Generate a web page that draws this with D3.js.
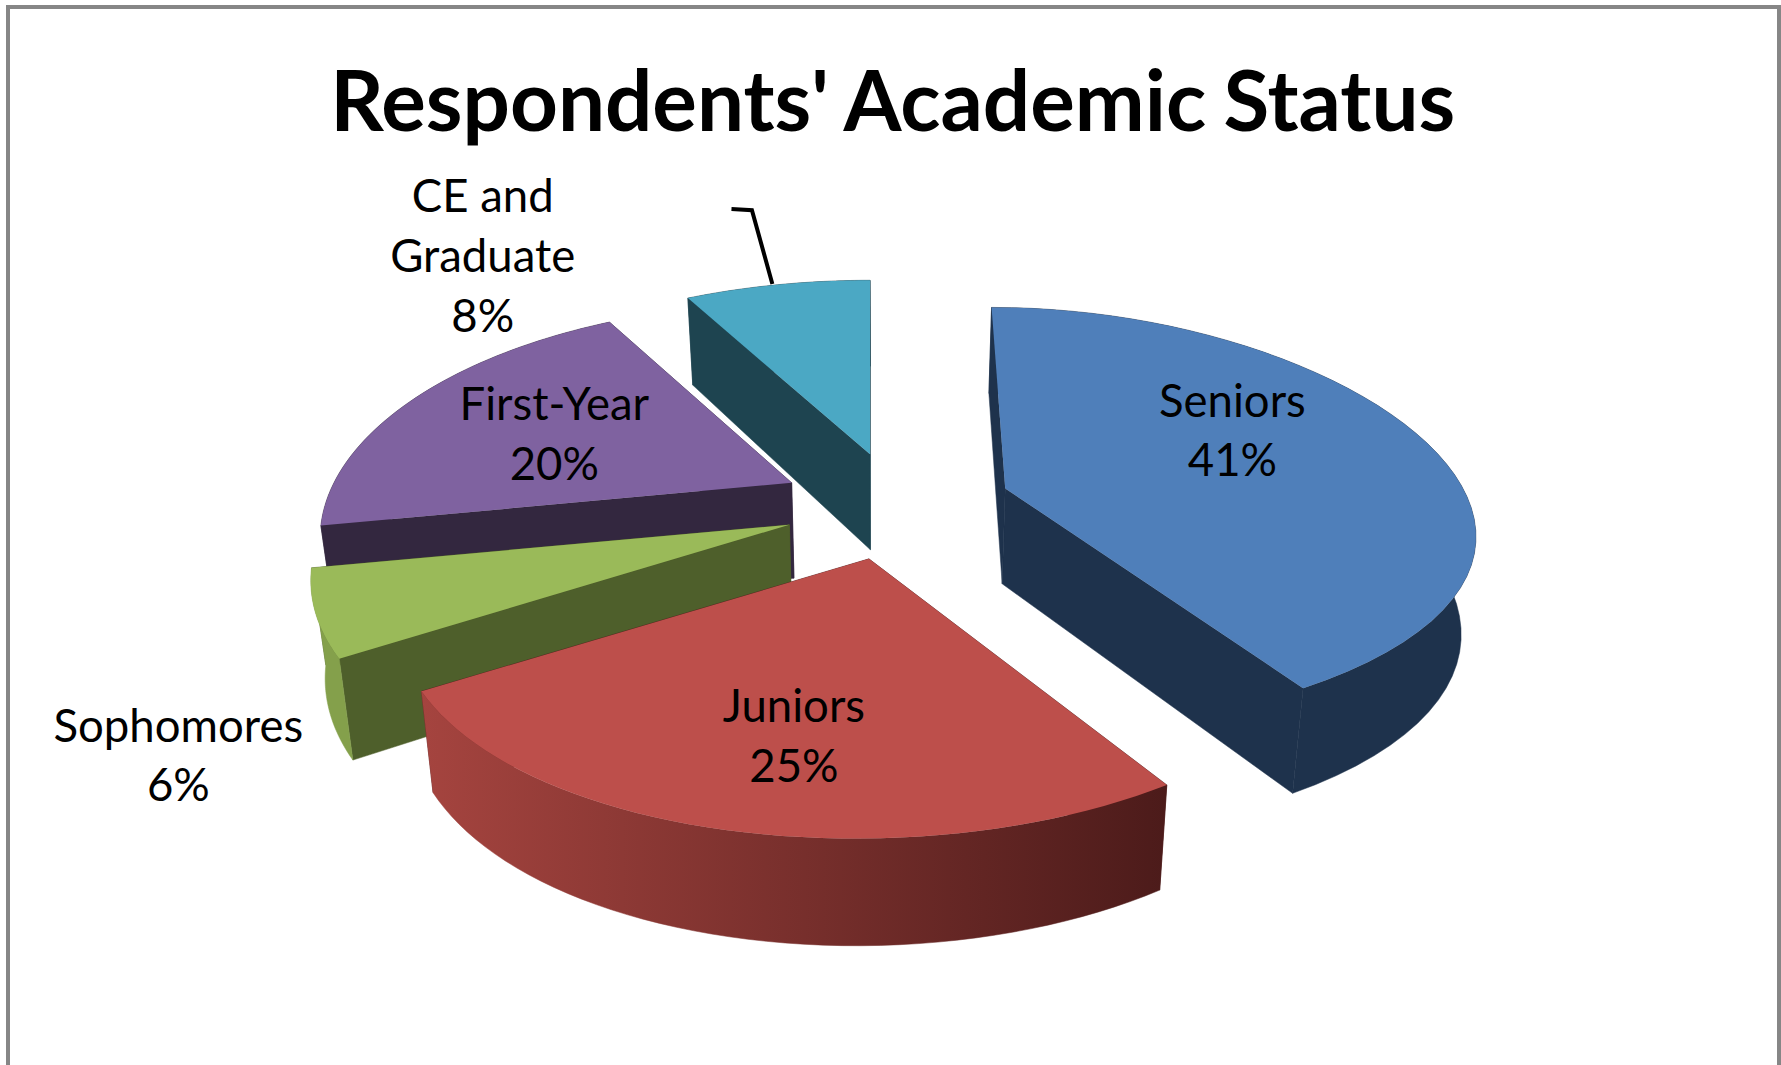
<!DOCTYPE html>
<html><head><meta charset="utf-8">
<script src="https://cdn.jsdelivr.net/npm/d3@7"></script>
<style>html,body{margin:0;padding:0;background:#fff}svg{display:block}text{font-family:Lato,"Open Sans",sans-serif;fill:#000}</style>
</head><body>
<script>
// Data
const categories = ["Seniors","Juniors","Sophomores","First-Year","CE and Graduate"];
const percents = [41,25,6,20,8];
const titleText = "Respondents' Academic Status";
const labelLines = [["Seniors","41%"],["Juniors","25%"],["Sophomores","6%"],["First-Year","20%"],["CE and","Graduate","8%"]];

// Style
const topColors = ["#4F7FBA","#BD4F4B","#9ABA59","#7F62A0","#4BA8C4"];
const cutColors = ["#1E324C","#4C1B1A","#4E5F2B","#33273F","#1E4450"];
const wallFrom  = ["#1E324C","#A5443F","#84A04B","#33273F","#1E4450"];
const wallTo    = ["#1E324C","#4C1B1A","#84A04B","#33273F","#1E4450"];

// Layout (expressed at the 1568-wide design size)
const W=1781,H=1065,S=W/1568;
const cx=778, cy=440, R=403, ry=190, persp=0.24, depth=84, depthPersp=0.11, depthShrink=0.975;
const explodeX=[107,-13,-83,-81,-12];
const explodeY=[-10,52,22,-15,-40];
const tiltFront=[0.86,0.985,1,1,1];
const tiltBack=[1.04,1.04,1.04,1.03,1.0];
const lean=[12,12,0,0,0];
const radiusScale=[1,1,1.015,1,1];
const labelAt=[[1085,367],[699,636],[157,653],[488,370],[425,187]];
const lineGap=52.5;

const px=d3.scaleLinear().domain([0,1568]).range([0,W]);
const py=d3.scaleLinear().domain([0,938]).range([0,938*S]);

const svg=d3.select("body").append("svg").attr("width",W).attr("height",H);
svg.append("rect").attr("width",W).attr("height",H).attr("fill","#fff");
// frame
svg.append("path").attr("d",`M8,${H} V7 H1779 V${H}`).attr("fill","none").attr("stroke","#868686").attr("stroke-width",4);

const pie=d3.pie().value(d=>d).sort(null);
const arcs=pie(percents);
const tiltScales=tiltBack.map((b,i)=>d3.scaleLinear().domain([-1,1]).range([b,tiltFront[i]]));

// a point on slice i at pie angle a and radius fraction r, on the top (z=0) or bottom (z=1) face
function pt(i,a,r,z){
  const u=r*Math.sin(a), v=-r*Math.cos(a);
  const s=1/(1-persp*v);
  let x=cx+explodeX[i]+R*radiusScale[i]*u*s-lean[i]*v*v;
  let y=cy+explodeY[i]+ry*v*s*tiltScales[i](v);
  if(z){
    x=cx+(x-cx)*depthShrink;
    y+=depth/(1-depthPersp*v);
  }
  return [px(x),py(y)];
}
const line=d3.line();
const defs=svg.append("defs");
const steps=48;
function angles(i){return d3.range(steps+1).map(k=>arcs[i].startAngle+(arcs[i].endAngle-arcs[i].startAngle)*k/steps);}
function face(i,a){return line([pt(i,a,0,0),pt(i,a,1,0),pt(i,a,1,1),pt(i,a,0,1)])+"Z";}

const order=[4,3,2,0,1];
order.forEach(i=>{
  const g=svg.append("g").attr("class","slice").attr("data-name",categories[i]);
  const as=angles(i);
  const a0=arcs[i].startAngle,a1=arcs[i].endAngle;
  // radial faces
  g.append("path").attr("fill",cutColors[i]).attr("stroke",cutColors[i]).attr("stroke-width",0.5).attr("d",face(i,a1));
  g.append("path").attr("fill",cutColors[i]).attr("stroke",cutColors[i]).attr("stroke-width",0.5).attr("d",face(i,a0));
  // outer wall
  const tops=as.map(a=>pt(i,a,1,0)), bots=as.map(a=>pt(i,a,1,1)).reverse();
  const ext=d3.extent(tops,d=>d[0]);
  const id="wall"+i;
  const gr=defs.append("linearGradient").attr("id",id).attr("gradientUnits","userSpaceOnUse")
    .attr("x1",ext[1]).attr("x2",ext[0]).attr("y1",0).attr("y2",0);
  gr.append("stop").attr("offset",0).attr("stop-color",wallTo[i]);
  gr.append("stop").attr("offset",1).attr("stop-color",wallFrom[i]);
  g.append("path").attr("fill",`url(#${id})`).attr("stroke",`url(#${id})`).attr("stroke-width",0.5).attr("d",line(tops.concat(bots))+"Z");
  // top face
  g.append("path").attr("fill",topColors[i]).attr("d",line([pt(i,a0,0,0)].concat(tops))+"Z");
});

// Title
svg.append("text").attr("x",px(786)).attr("y",py(115)).attr("text-anchor","middle")
  .attr("font-size",83.5).attr("font-weight",700).attr("word-spacing",-3).attr("id","title").text(titleText);

// Labels
labelLines.forEach((ls,i)=>{
  ls.forEach((t,j)=>{
    svg.append("text").attr("x",px(labelAt[i][0])).attr("y",py(labelAt[i][1]+j*lineGap))
      .attr("text-anchor","middle").attr("font-size",45.5).attr("fill","#111").text(t);
  });
});
// Leader line for the CE and Graduate label
svg.append("path").attr("fill","none").attr("stroke","#000").attr("stroke-width",4)
  .attr("d",line([[px(644),py(184)],[px(662),py(185)],[px(680),py(250)]]));
</script>
</body></html>
